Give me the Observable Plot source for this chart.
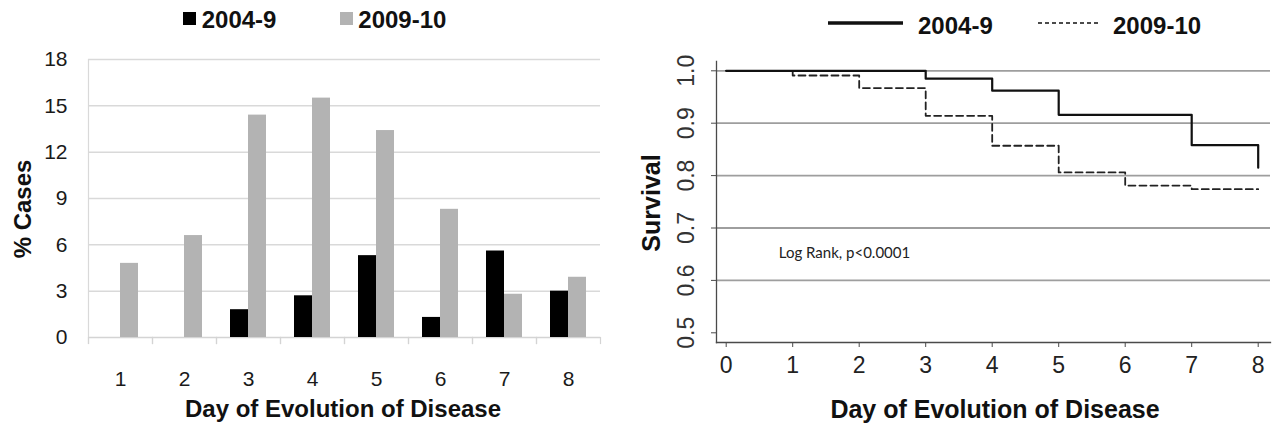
<!DOCTYPE html>
<html>
<head>
<meta charset="utf-8">
<script src="https://cdn.jsdelivr.net/npm/d3@7"></script>
<script src="https://cdn.jsdelivr.net/npm/@observablehq/plot@0.6"></script>
<style>
  html, body { margin: 0; padding: 0; background: #fff; }
  #wrap { position: relative; width: 1272px; height: 425px; overflow: hidden; background: #fff;
          font-family: "Liberation Sans", Arial, sans-serif; color: #111; }
  #wrap > svg, #wrap > figure { position: absolute; top: 0; margin: 0; }
  .lab { position: absolute; white-space: nowrap; line-height: 1; font-weight: bold; }
</style>
</head>
<body>
<div id="wrap"></div>
<script>
// ---- Left chart data: % cases by day of evolution ----
const days = [1, 2, 3, 4, 5, 6, 7, 8];
const seriesNames = ["2004-9", "2009-10"];
const pct2004 = [0, 0, 1.8, 2.7, 5.3, 1.3, 5.6, 3.0];
const pct2009 = [4.8, 6.6, 14.4, 15.5, 13.4, 8.3, 2.8, 3.9];
const pctTicks = [0, 3, 6, 9, 12, 15, 18];

// ---- Right chart data: Kaplan-Meier survival ----
const kmDays2004 = [0, 3, 4, 5, 7, 8];
const kmSurv2004 = [1.0, 0.985, 0.962, 0.916, 0.858, 0.815];
const kmDays2009 = [0, 1, 2, 3, 4, 5, 6, 7, 8];
const kmSurv2009 = [1.0, 0.991, 0.967, 0.914, 0.857, 0.806, 0.781, 0.774, 0.774];
const dayTicks = [0, 1, 2, 3, 4, 5, 6, 7, 8];
const survTicks = [0.5, 0.6, 0.7, 0.8, 0.9, 1.0];
const survGrid = [0.6, 0.7, 0.8, 0.9, 1.0];
const annotation = ["Log Rank, p<0.0001"];
const xTitle = "Day of Evolution of Disease";

const barColors = ["#000000", "#b3b3b3"];

const table = days.flatMap((d, i) => [
  {day: d, series: seriesNames[0], pct: pct2004[i]},
  {day: d, series: seriesNames[1], pct: pct2009[i]}
]);
const km2004 = kmDays2004.map((d, i) => ({day: d, surv: kmSurv2004[i]}));
const km2009 = kmDays2009.map((d, i) => ({day: d, surv: kmSurv2009[i]}));

const wrap = document.getElementById("wrap");

// ---- Left plot ----
const left = Plot.plot({
  width: 640, height: 425,
  marginLeft: 85, marginRight: 37.3, marginTop: 59, marginBottom: 88,
  style: {fontFamily: "Liberation Sans, Arial, sans-serif", fontSize: "21px", color: "#1a1a1a", background: "transparent", overflow: "visible"},
  fx: {domain: days, padding: 0, label: null, tickSize: 0, tickPadding: 34},
  x: {domain: seriesNames, paddingInner: 0, paddingOuter: 0.76, axis: null},
  y: {domain: [0, 18], ticks: pctTicks, tickSize: 0, tickPadding: 21, label: null},
  color: {domain: seriesNames, range: barColors},
  marks: [
    Plot.gridY(pctTicks.filter(t => t > 0), {stroke: "#d9d9d9", strokeOpacity: 1, strokeWidth: 1.5}),
    Plot.ruleY([0], {stroke: "#d4d4d4", strokeWidth: 1.5}),
    Plot.frame({anchor: "left", stroke: "#d9d9d9", strokeWidth: 1.2, insetBottom: -6, facetAnchor: "left"}),
    Plot.frame({anchor: "left", stroke: "#d4d4d4", strokeWidth: 1.2, insetTop: 278, insetBottom: -6}),
    Plot.frame({anchor: "right", stroke: "#d4d4d4", strokeWidth: 1.2, insetTop: 278, insetBottom: -6}),
    Plot.barY(table, {fx: "day", x: "series", y: "pct", fill: "series"})
  ]
});
left.style.left = "0px";
wrap.appendChild(left);

// ---- Right plot ----
const right = Plot.plot({
  width: 632, height: 425,
  marginLeft: 76, marginRight: 2, marginTop: 61, marginBottom: 83,
  style: {fontFamily: "Liberation Sans, Arial, sans-serif", fontSize: "23px", color: "#222", background: "transparent", overflow: "visible"},
  x: {domain: [0, 8], insetLeft: 9.7, insetRight: 12.3},
  y: {domain: [0.5, 1.0], insetTop: 9.3, insetBottom: 9.7},
  marks: [
    Plot.gridY(survGrid, {stroke: "#9e9e9e", strokeOpacity: 1, strokeWidth: 1.8}),
    Plot.frame({anchor: "left", stroke: "#4a4a4a", strokeWidth: 1.3}),
    Plot.frame({anchor: "bottom", stroke: "#4a4a4a", strokeWidth: 1.3}),
    Plot.axisX({ticks: dayTicks, tickSize: 5, tickPadding: 9, label: null, stroke: "#4a4a4a", fill: "#222", fontSize: 23}),
    Plot.axisY({ticks: survTicks, tickSize: 5, tickPadding: 18, tickRotate: -90, textAnchor: "middle", lineAnchor: "bottom",
                tickFormat: d3.format(".1f"), label: null, stroke: "#4a4a4a", fill: "#333", fontSize: 23}),
    Plot.line(km2009, {x: "day", y: "surv", curve: "step-after", stroke: "#222", strokeWidth: 1.8, strokeDasharray: "7,4"}),
    Plot.line(km2004, {x: "day", y: "surv", curve: "step-after", stroke: "#111", strokeWidth: 2.2}),
    Plot.text(annotation, {text: d => d, frameAnchor: "left", dx: 62.3, dy: 51.5, textAnchor: "start",
                           fontFamily: "Lato, Open Sans, sans-serif", fontSize: 15, fill: "#222"})
  ]
});
right.style.left = "640px";
wrap.appendChild(right);

// ---- Overlay labels and legends ----
function addLabel(text, x, y, {size = 24, anchor = "middle", rotate = 0} = {}) {
  const el = document.createElement("div");
  el.className = "lab";
  el.textContent = text;
  el.style.fontSize = size + "px";
  el.style.left = x + "px";
  el.style.top = y + "px";
  const tx = anchor === "start" ? "0" : "-50%";
  el.style.transform = `translate(${tx},-50%)` + (rotate ? ` rotate(${rotate}deg)` : "");
  wrap.appendChild(el);
  return el;
}
function addSquare(x, y, size, color) {
  const el = document.createElement("div");
  Object.assign(el.style, {position: "absolute", left: x + "px", top: y + "px", width: size + "px", height: size + "px", background: color});
  wrap.appendChild(el);
}
function addLineSwatch(x1, x2, y, width, dash) {
  const ns = "http://www.w3.org/2000/svg";
  const s = document.createElementNS(ns, "svg");
  s.setAttribute("width", x2 - x1);
  s.setAttribute("height", 10);
  Object.assign(s.style, {position: "absolute", left: x1 + "px", top: (y - 5) + "px"});
  const l = document.createElementNS(ns, "line");
  l.setAttribute("x1", 0); l.setAttribute("x2", x2 - x1);
  l.setAttribute("y1", 5); l.setAttribute("y2", 5);
  l.setAttribute("stroke", "#111");
  l.setAttribute("stroke-width", width);
  if (dash) l.setAttribute("stroke-dasharray", dash);
  s.appendChild(l);
  wrap.appendChild(s);
}

// left legend
addSquare(183, 11.5, 13, barColors[0]);
addLabel(seriesNames[0], 201.7, 20, {anchor: "start"});
addSquare(340, 11.5, 13, barColors[1]);
addLabel(seriesNames[1], 358.3, 20, {anchor: "start"});
// left axis titles
addLabel("% Cases", 22.5, 209, {rotate: -90});
addLabel(xTitle, 343, 408.5);

// right legend
addLineSwatch(828, 903, 23.3, 3.5, null);
addLabel(seriesNames[0], 918, 26, {anchor: "start"});
addLineSwatch(1038, 1098, 23.3, 1.5, "4,3");
addLabel(seriesNames[1], 1113, 26, {anchor: "start"});
// right axis titles
addLabel("Survival", 651, 203, {size: 25, rotate: -90});
addLabel(xTitle, 995, 409, {size: 25});
</script>
</body>
</html>
